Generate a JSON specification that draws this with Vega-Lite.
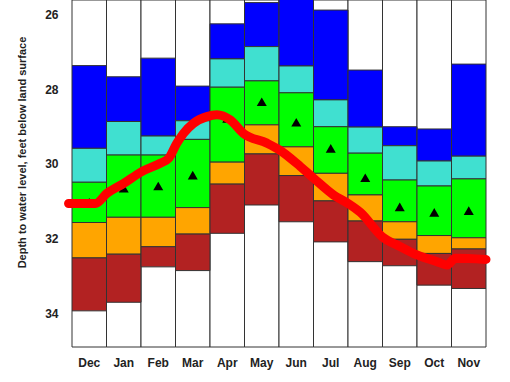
{
  "$schema": "https://vega.github.io/schema/vega-lite/v6.json",
  "width": 414,
  "height": 347,
  "autosize": "none",
  "padding": {"left": 72, "top": 0, "right": 24, "bottom": 35},
  "background": "white",
  "view": {"stroke": null},
  "config": {
    "font": "Liberation Sans",
    "axis": {"labelFont": "Liberation Sans", "labelFontWeight": "bold", "labelFontSize": 12, "labelColor": "#222", "titleFont": "Liberation Sans", "titleFontWeight": "bold", "titleFontSize": 11, "titleColor": "#222"}
  },
  "datasets": {
    "months": [
      {"month": "Dec"}, {"month": "Jan"}, {"month": "Feb"}, {"month": "Mar"}, {"month": "Apr"}, {"month": "May"},
      {"month": "Jun"}, {"month": "Jul"}, {"month": "Aug"}, {"month": "Sep"}, {"month": "Oct"}, {"month": "Nov"}
    ],
    "bands": [
      {"month": "Dec", "cls": "p90-max", "top": 27.36, "bot": 29.58},
      {"month": "Dec", "cls": "p75-90", "top": 29.58, "bot": 30.49},
      {"month": "Dec", "cls": "p25-75", "top": 30.49, "bot": 31.57},
      {"month": "Dec", "cls": "p10-25", "top": 31.57, "bot": 32.52},
      {"month": "Dec", "cls": "min-p10", "top": 32.52, "bot": 33.94},
      {"month": "Jan", "cls": "p90-max", "top": 27.66, "bot": 28.86},
      {"month": "Jan", "cls": "p75-90", "top": 28.86, "bot": 29.76},
      {"month": "Jan", "cls": "p25-75", "top": 29.76, "bot": 31.43},
      {"month": "Jan", "cls": "p10-25", "top": 31.43, "bot": 32.42},
      {"month": "Jan", "cls": "min-p10", "top": 32.42, "bot": 33.71},
      {"month": "Feb", "cls": "p90-max", "top": 27.16, "bot": 29.25},
      {"month": "Feb", "cls": "p75-90", "top": 29.25, "bot": 29.76},
      {"month": "Feb", "cls": "p25-75", "top": 29.76, "bot": 31.43},
      {"month": "Feb", "cls": "p10-25", "top": 31.43, "bot": 32.22},
      {"month": "Feb", "cls": "min-p10", "top": 32.22, "bot": 32.76},
      {"month": "Mar", "cls": "p90-max", "top": 27.91, "bot": 28.84},
      {"month": "Mar", "cls": "p75-90", "top": 28.84, "bot": 29.34},
      {"month": "Mar", "cls": "p25-75", "top": 29.34, "bot": 31.17},
      {"month": "Mar", "cls": "p10-25", "top": 31.17, "bot": 31.88},
      {"month": "Mar", "cls": "min-p10", "top": 31.88, "bot": 32.86},
      {"month": "Apr", "cls": "p90-max", "top": 26.24, "bot": 27.18},
      {"month": "Apr", "cls": "p75-90", "top": 27.18, "bot": 27.94},
      {"month": "Apr", "cls": "p25-75", "top": 27.94, "bot": 29.95},
      {"month": "Apr", "cls": "p10-25", "top": 29.95, "bot": 30.54},
      {"month": "Apr", "cls": "min-p10", "top": 30.54, "bot": 31.86},
      {"month": "May", "cls": "p90-max", "top": 25.67, "bot": 26.85},
      {"month": "May", "cls": "p75-90", "top": 26.85, "bot": 27.77},
      {"month": "May", "cls": "p25-75", "top": 27.77, "bot": 28.95},
      {"month": "May", "cls": "p10-25", "top": 28.95, "bot": 29.73},
      {"month": "May", "cls": "min-p10", "top": 29.73, "bot": 31.1},
      {"month": "Jun", "cls": "p90-max", "top": 25.5, "bot": 27.37},
      {"month": "Jun", "cls": "p75-90", "top": 27.37, "bot": 28.09},
      {"month": "Jun", "cls": "p25-75", "top": 28.09, "bot": 29.54},
      {"month": "Jun", "cls": "p10-25", "top": 29.54, "bot": 30.31},
      {"month": "Jun", "cls": "min-p10", "top": 30.31, "bot": 31.55},
      {"month": "Jul", "cls": "p90-max", "top": 25.87, "bot": 28.28},
      {"month": "Jul", "cls": "p75-90", "top": 28.28, "bot": 29.0},
      {"month": "Jul", "cls": "p25-75", "top": 29.0, "bot": 30.25},
      {"month": "Jul", "cls": "p10-25", "top": 30.25, "bot": 30.99},
      {"month": "Jul", "cls": "min-p10", "top": 30.99, "bot": 32.09},
      {"month": "Aug", "cls": "p90-max", "top": 27.48, "bot": 29.01},
      {"month": "Aug", "cls": "p75-90", "top": 29.01, "bot": 29.71},
      {"month": "Aug", "cls": "p25-75", "top": 29.71, "bot": 30.83},
      {"month": "Aug", "cls": "p10-25", "top": 30.83, "bot": 31.53},
      {"month": "Aug", "cls": "min-p10", "top": 31.53, "bot": 32.62},
      {"month": "Sep", "cls": "p90-max", "top": 29.0, "bot": 29.51},
      {"month": "Sep", "cls": "p75-90", "top": 29.51, "bot": 30.43},
      {"month": "Sep", "cls": "p25-75", "top": 30.43, "bot": 31.55},
      {"month": "Sep", "cls": "p10-25", "top": 31.55, "bot": 32.02},
      {"month": "Sep", "cls": "min-p10", "top": 32.02, "bot": 32.73},
      {"month": "Oct", "cls": "p90-max", "top": 29.06, "bot": 29.92},
      {"month": "Oct", "cls": "p75-90", "top": 29.92, "bot": 30.59},
      {"month": "Oct", "cls": "p25-75", "top": 30.59, "bot": 31.92},
      {"month": "Oct", "cls": "p10-25", "top": 31.92, "bot": 32.4},
      {"month": "Oct", "cls": "min-p10", "top": 32.4, "bot": 33.25},
      {"month": "Nov", "cls": "p90-max", "top": 27.32, "bot": 29.79},
      {"month": "Nov", "cls": "p75-90", "top": 29.79, "bot": 30.4},
      {"month": "Nov", "cls": "p25-75", "top": 30.4, "bot": 31.98},
      {"month": "Nov", "cls": "p10-25", "top": 31.98, "bot": 32.28},
      {"month": "Nov", "cls": "min-p10", "top": 32.28, "bot": 33.34}
    ],
    "medians": [
      {"month": "Dec", "median": 31.03}, {"month": "Jan", "median": 30.65}, {"month": "Feb", "median": 30.59},
      {"month": "Mar", "median": 30.3}, {"month": "Apr", "median": 28.78}, {"month": "May", "median": 28.33},
      {"month": "Jun", "median": 28.88}, {"month": "Jul", "median": 29.58}, {"month": "Aug", "median": 30.37},
      {"month": "Sep", "median": 31.15}, {"month": "Oct", "median": 31.3}, {"month": "Nov", "median": 31.25}
    ],
    "current": [
      {"t": -0.1, "depth": 31.06}, {"t": 0.68, "depth": 31.06}, {"t": 1.01, "depth": 30.79},
      {"t": 1.5, "depth": 30.52}, {"t": 2.01, "depth": 30.21}, {"t": 2.56, "depth": 29.98},
      {"t": 2.8, "depth": 29.85}, {"t": 3.04, "depth": 29.44}, {"t": 3.23, "depth": 29.18},
      {"t": 3.52, "depth": 28.91}, {"t": 3.91, "depth": 28.73}, {"t": 4.2, "depth": 28.68},
      {"t": 4.59, "depth": 28.82}, {"t": 4.97, "depth": 29.18}, {"t": 5.65, "depth": 29.44},
      {"t": 6.01, "depth": 29.62}, {"t": 6.62, "depth": 30.07}, {"t": 7.0, "depth": 30.38},
      {"t": 7.58, "depth": 30.83}, {"t": 8.0, "depth": 31.06}, {"t": 8.36, "depth": 31.3},
      {"t": 8.99, "depth": 31.95}, {"t": 9.52, "depth": 32.22}, {"t": 10.0, "depth": 32.44},
      {"t": 10.58, "depth": 32.62}, {"t": 10.87, "depth": 32.71}, {"t": 11.11, "depth": 32.53},
      {"t": 12.0, "depth": 32.56}
    ]
  },
  "layer": [
    {
      "layer": [
        {
          "data": {"name": "months"},
          "mark": {"type": "rect", "fill": "white", "stroke": "#333", "strokeWidth": 1},
          "encoding": {
            "x": {"field": "month", "type": "nominal", "sort": null,
                  "scale": {"paddingInner": 0, "paddingOuter": 0},
                  "axis": {"title": null, "ticks": false, "domain": false, "labelAngle": 0, "labelPadding": 10}},
            "y": {"datum": 25.6, "type": "quantitative",
                  "scale": {"domain": [25.6, 34.91], "reverse": true, "nice": false, "zero": false},
                  "axis": {"title": "Depth to water level, feet below land surface", "values": [26, 28, 30, 32, 34],
                           "ticks": false, "domain": false, "grid": false, "labelPadding": 14,
                           "titleAngle": -90, "titleX": -50, "titleY": 152, "titleAlign": "center", "titleBaseline": "middle"}},
            "y2": {"datum": 34.91}
          }
        },
        {
          "data": {"name": "bands"},
          "mark": {"type": "rect", "stroke": "#333", "strokeWidth": 1, "clip": true},
          "encoding": {
            "x": {"field": "month", "type": "nominal", "sort": null},
            "y": {"field": "top", "type": "quantitative"},
            "y2": {"field": "bot"},
            "fill": {"field": "cls", "type": "nominal",
                     "scale": {"domain": ["p90-max", "p75-90", "p25-75", "p10-25", "min-p10"],
                               "range": ["#0000ff", "#40e0d0", "#00ff00", "#ffa500", "#b22222"]},
                     "legend": null}
          }
        },
        {
          "data": {"name": "medians"},
          "mark": {"type": "point", "shape": "triangle-up", "filled": true, "color": "black", "size": 100, "opacity": 1},
          "encoding": {
            "x": {"field": "month", "type": "nominal", "sort": null},
            "y": {"field": "median", "type": "quantitative"}
          }
        }
      ]
    },
    {
      "data": {"name": "current"},
      "mark": {"type": "line", "color": "#ff0000", "strokeWidth": 9, "strokeCap": "round", "strokeJoin": "round", "interpolate": "monotone"},
      "encoding": {
        "x": {"field": "t", "type": "quantitative", "scale": {"domain": [0, 12], "nice": false, "zero": false}, "axis": null},
        "y": {"field": "depth", "type": "quantitative"}
      }
    }
  ],
  "resolve": {"scale": {"x": "independent"}}
}
